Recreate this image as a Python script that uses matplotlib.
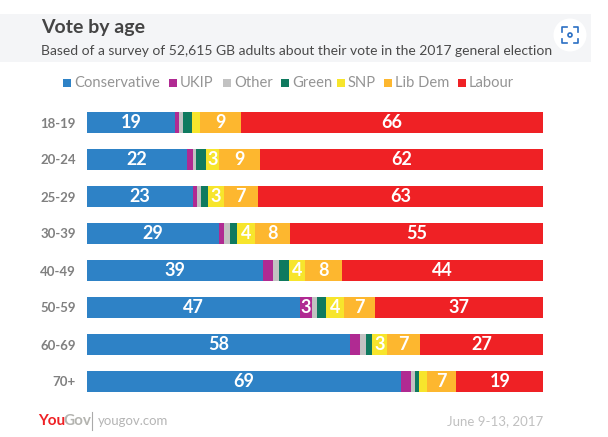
import numpy as np
import matplotlib
matplotlib.use("Agg")
import matplotlib.pyplot as plt
from matplotlib.patches import Rectangle, Circle

W, H = 608, 437

ages = ["18-19", "20-24", "25-29", "30-39", "40-49", "50-59", "60-69", "70+"]
parties = ["Conservative", "UKIP", "Other", "Green", "SNP", "Lib Dem", "Labour"]
colors = ["#2e82c6", "#b02a92", "#c2c2c2", "#0f7a5f", "#f7e52c", "#fdb72f", "#ef2125"]

conservative = [19.4, 22.0, 23.2, 29.0, 38.5, 46.7, 57.7, 68.9]
ukip = [0.7, 1.2, 0.9, 1.0, 2.3, 2.6, 2.2, 2.2]
other = [1.0, 0.7, 0.9, 1.4, 1.2, 1.2, 1.3, 0.9]
green = [2.0, 2.2, 1.5, 1.5, 2.2, 1.9, 1.3, 0.9]
snp = [1.6, 2.9, 3.5, 3.9, 3.7, 3.9, 3.3, 1.7]
libdem = [9.0, 8.9, 7.4, 7.7, 8.0, 6.9, 7.2, 6.4]
labour = [66.2, 62.1, 62.6, 55.5, 44.1, 36.7, 27.0, 19.1]

# printed labels, 0 = no label on that segment
conservative_lab = [19, 22, 23, 29, 39, 47, 58, 69]
ukip_lab = [0, 0, 0, 0, 0, 3, 0, 0]
other_lab = [0] * 8
green_lab = [0] * 8
snp_lab = [0, 3, 3, 4, 4, 4, 3, 0]
libdem_lab = [9, 9, 7, 8, 8, 7, 7, 7]
labour_lab = [66, 62, 63, 55, 44, 37, 27, 19]

series = [conservative, ukip, other, green, snp, libdem, labour]
labels = [conservative_lab, ukip_lab, other_lab, green_lab, snp_lab, libdem_lab, labour_lab]

plt.rcParams["font.family"] = ["Lato", "DejaVu Sans"]

fig = plt.figure(figsize=(W / 100, H / 100), dpi=100)


def fx(x):
    return x / W


def fy(y):
    return 1 - y / H


# header band
fig.patches.append(Rectangle((0, fy(62)), fx(591), 48 / H, transform=fig.transFigure,
                             facecolor="#f4f5f7", edgecolor="none"))
fig.text(fx(41), fy(28), "Vote by age", fontsize=14, fontweight="bold", color="#444444", va="center")
fig.text(fx(41), fy(51), "Based of a survey of 52,615 GB adults about their vote in the 2017 general election",
         fontsize=10, color="#4a4a4a", va="center")

# bars
ax = fig.add_axes([fx(87), fy(400), 456 / W, 296 / H])
y = np.arange(len(ages))
left = np.zeros(len(ages))
for vals, labs, c in zip(series, labels, colors):
    ax.barh(y, vals, left=left, height=21 / 37, color=c, linewidth=0)
    for i, lab in enumerate(labs):
        if lab:
            ax.text(left[i] + vals[i] / 2, i, str(lab), ha="center", va="center",
                    color="white", fontsize=13, fontweight="bold")
    left += np.array(vals)
ax.set_xlim(0, 100)
ax.set_ylim(len(ages) - 0.5, -0.5)
ax.set_yticks(y, ages, fontsize=9.5, fontweight="bold", color="#808080")
ax.set_xticks([])
ax.tick_params(axis="y", length=0, pad=8)
for s in ax.spines.values():
    s.set_visible(False)

# legend drawn by hand to hit the spacing
legend_x = [63, 169, 223, 281, 337, 384, 458]
for name, c, lx in zip(parties, colors, legend_x):
    fig.patches.append(Rectangle((fx(lx), fy(87)), 8 / W, 8 / H, transform=fig.transFigure,
                                 facecolor=c, edgecolor="none"))
    fig.text(fx(lx + 11), fy(83), name, fontsize=10.6, color="#949494", va="center")

# screenshot button, above the band
icon = fig.add_axes([fx(552), fy(53), 36 / W, 36 / H])
icon.set_zorder(5)
icon.set_xlim(-18, 18)
icon.set_ylim(-18, 18)
icon.axis("off")
icon.add_patch(Circle((0, 0), 16.5, facecolor="white", edgecolor="none"))
for sx in (-1, 1):
    for sy in (-1, 1):
        icon.plot([sx * 8, sx * 8, sx * 3.5], [sy * 3.5, sy * 8, sy * 8], color="#2b6fc4", lw=1.2)
icon.add_patch(Circle((0, 0), 2, facecolor="none", edgecolor="#2b6fc4", lw=1.2))

# footer
fig.text(fx(38), fy(421), "You", fontsize=11, fontweight="bold", color="#ef2125", va="center")
fig.text(fx(63), fy(421), "Gov", fontsize=11, fontweight="bold", color="#b4b4b0", va="center")
fig.add_artist(plt.Line2D([fx(92), fx(92)], [fy(412), fy(430)], color="#aaaaaa", lw=0.8))
fig.text(fx(98), fy(421), "yougov.com", fontsize=9.5, color="#b5b5b5", va="center")
fig.text(fx(543), fy(421), "June 9-13, 2017", fontsize=9.5, color="#c0c0c0", va="center", ha="right")

fig.savefig("out.png", dpi=100)
